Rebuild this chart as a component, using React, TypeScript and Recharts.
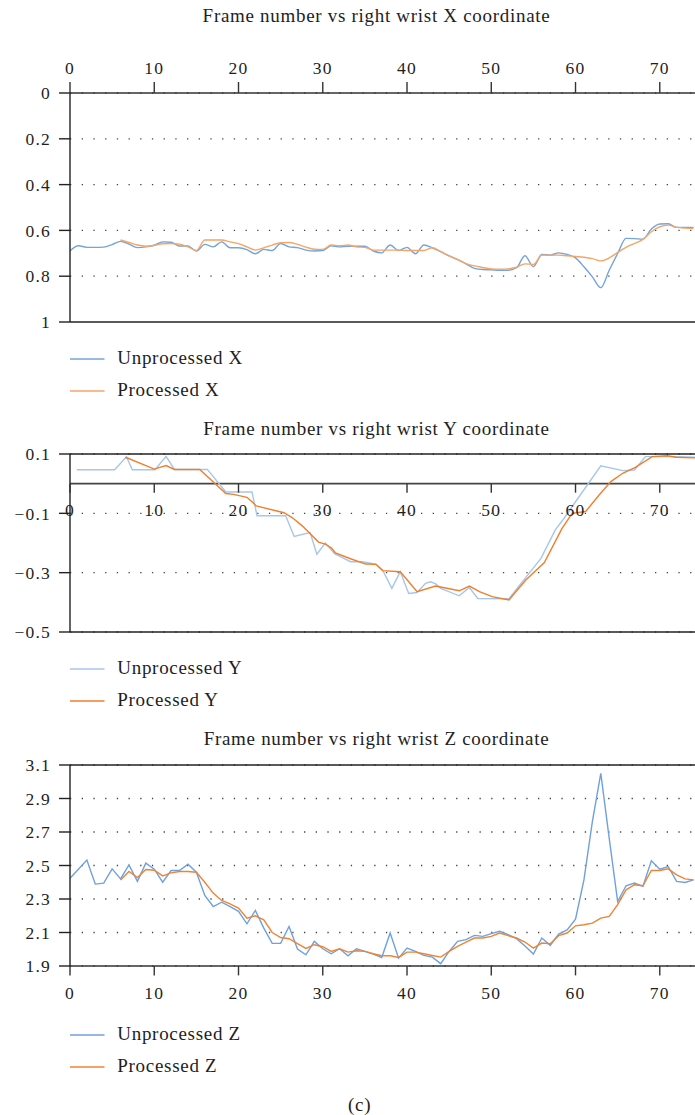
import React from 'react';
import { LineChart, Line, XAxis, YAxis, CartesianGrid, ReferenceLine, ReferenceDot, Legend } from 'recharts';

const FONT = '"Liberation Serif", "Times New Roman", serif';

// ---------- shared axis data ----------
const xTicks = [0, 10, 20, 30, 40, 50, 60, 70];
const xDomain: [number, number] = [0, 74.3];

// ---------- chart 1: X coordinate ----------
const titleX = 'Frame number vs right wrist X coordinate';
const namesX = ['Unprocessed X', 'Processed X'];
const yTicksX = [0, 0.2, 0.4, 0.6, 0.8, 1];
const unprocessedX = [
  0.69, 0.667, 0.674, 0.674, 0.673, 0.662, 0.648, 0.66, 0.675, 0.672,
  0.665, 0.65, 0.652, 0.668, 0.668, 0.69, 0.661, 0.672, 0.65, 0.676,
  0.676, 0.684, 0.702, 0.683, 0.688, 0.657, 0.672, 0.675, 0.686, 0.69,
  0.688, 0.667, 0.672, 0.669, 0.669, 0.669, 0.69, 0.698, 0.664, 0.688,
  0.674, 0.702, 0.664, 0.676, 0.693, 0.711, 0.728, 0.746, 0.766, 0.771,
  0.772, 0.774, 0.774, 0.763, 0.711, 0.758, 0.705, 0.708, 0.698, 0.705,
  0.72, 0.759, 0.803, 0.85, 0.774, 0.701, 0.635, 0.636, 0.638, 0.594,
  0.572, 0.571, 0.587, 0.587, 0.587,
];
const processedXStart = 6;
const processedX = [
  0.642, 0.653, 0.664, 0.669,
  0.666, 0.658, 0.657, 0.66, 0.672, 0.688, 0.642, 0.642, 0.642, 0.65,
  0.658, 0.672, 0.686, 0.676, 0.664, 0.654, 0.653, 0.661, 0.673, 0.682,
  0.683, 0.664, 0.667, 0.664, 0.672, 0.674, 0.686, 0.686, 0.686, 0.686,
  0.688, 0.688, 0.688, 0.676, 0.693, 0.711, 0.727, 0.745, 0.755, 0.762,
  0.768, 0.769, 0.768, 0.761, 0.746, 0.749, 0.708, 0.708, 0.708, 0.711,
  0.714, 0.717, 0.723, 0.733, 0.72, 0.696, 0.674, 0.657, 0.639, 0.606,
  0.584, 0.577, 0.587, 0.59, 0.591,
];

// ---------- chart 2: Y coordinate ----------
const titleY = 'Frame number vs right wrist Y coordinate';
const namesY = ['Unprocessed Y', 'Processed Y'];
const yTicksY = [0.1, -0.1, -0.3, -0.5];
const unprocessedYFrames = [
  0.8, 5.3, 6.7, 7.4, 10.1, 11.4, 12.4, 16.3, 18.5, 21.6,
  22.2, 25.6, 26.6, 28.5, 29.3, 30.3, 31.4, 33.3, 34.7, 36.3,
  37.1, 38.2, 39.2, 40.2, 41.2, 42.2, 42.8, 43.4, 44, 46.2,
  47.4, 48.4, 52.1, 54.1, 55.9, 57.6, 58.4, 60, 63, 65.6,
  67, 68.3, 71.7, 74.3,
];
const unprocessedYValues = [
  0.047, 0.047, 0.091, 0.047, 0.047, 0.092, 0.048, 0.048, -0.028, -0.028,
  -0.108, -0.108, -0.178, -0.165, -0.238, -0.2, -0.236, -0.263, -0.263, -0.271,
  -0.291, -0.353, -0.297, -0.37, -0.367, -0.336, -0.331, -0.338, -0.353, -0.378,
  -0.35, -0.387, -0.388, -0.316, -0.252, -0.156, -0.126, -0.061, 0.06, 0.044,
  0.046, 0.091, 0.091, 0.089,
];
const processedYFrames = [
  6.6, 10, 11.4, 12.4, 15.4, 18.5, 19.4, 21, 21.6, 22.1,
  25.4, 26.4, 27.6, 29.5, 30.3, 31, 31.5, 33.3, 35.1, 36.3,
  37.1, 39.2, 41.2, 43.4, 46.2, 47.4, 48.6, 50.1, 52.1, 54.1,
  56.3, 58.4, 59.6, 61.2, 62.8, 64.2, 65.6, 67.1, 69.1, 70.9,
  71.9, 74.3,
];
const processedYValues = [
  0.089, 0.049, 0.061, 0.048, 0.048, -0.033, -0.036, -0.046, -0.061, -0.075,
  -0.098, -0.115, -0.143, -0.197, -0.204, -0.216, -0.233, -0.253, -0.271, -0.272,
  -0.293, -0.297, -0.364, -0.345, -0.361, -0.345, -0.364, -0.381, -0.392, -0.325,
  -0.266, -0.151, -0.1, -0.094, -0.038, 0.007, 0.035, 0.055, 0.091, 0.094,
  0.089, 0.087,
];

// ---------- chart 3: Z coordinate ----------
const titleZ = 'Frame number vs right wrist Z coordinate';
const namesZ = ['Unprocessed Z', 'Processed Z'];
const yTicksZ = [3.1, 2.9, 2.7, 2.5, 2.3, 2.1, 1.9];
const unprocessedZ = [
  2.424, 2.478, 2.532, 2.389, 2.395, 2.48, 2.42, 2.504, 2.405, 2.514,
  2.478, 2.4, 2.47, 2.47, 2.508, 2.46, 2.321, 2.255, 2.281, 2.255,
  2.226, 2.152, 2.232, 2.126, 2.035, 2.035, 2.136, 2.001, 1.967, 2.047,
  2.003, 1.973, 2.003, 1.961, 2.003, 1.987, 1.971, 1.951, 2.097, 1.947,
  2.007, 1.987, 1.963, 1.953, 1.914, 1.987, 2.047, 2.057, 2.083, 2.077,
  2.093, 2.107, 2.087, 2.063, 2.019, 1.971, 2.067, 2.023, 2.091, 2.116,
  2.18, 2.414, 2.762, 3.05, 2.662, 2.285, 2.379, 2.395, 2.375, 2.528,
  2.478, 2.494, 2.405, 2.399, 2.414,
];
const processedZStart = 6;
const processedZ = [
  2.414, 2.464, 2.428, 2.476,
  2.472, 2.438, 2.456, 2.464, 2.464, 2.46, 2.4, 2.335, 2.291, 2.271,
  2.246, 2.186, 2.2, 2.176, 2.1, 2.07, 2.063, 2.033, 2.005, 2.027,
  2.015, 1.987, 2.003, 1.983, 1.991, 1.987, 1.973, 1.961, 1.961, 1.951,
  1.983, 1.983, 1.973, 1.963, 1.953, 1.987, 2.017, 2.043, 2.067, 2.067,
  2.077, 2.097, 2.081, 2.067, 2.043, 2.007, 2.037, 2.033, 2.081, 2.097,
  2.14, 2.146, 2.156, 2.186, 2.196, 2.266, 2.355, 2.385, 2.379, 2.47,
  2.47, 2.48, 2.444, 2.42, 2.414,
];

const caption = '(c)';

// ---------- helpers ----------
const fromStart = (values: number[], start: number) => values.map((v, i) => ({ frame: start + i, value: v }));
const fromPairs = (frames: number[], values: number[]) => frames.map((f, i) => ({ frame: f, value: values[i] }));
const minusFmt = (v: number) => (v < 0 ? '\u2212' + String(Math.abs(v)) : String(v));

const CHART_W = 696;
const AXIS_W = 70;
const LEGEND_H = 90;
const legendRows = [37, 69];

const tickStyle = { fill: '#1e1e1e', fontSize: 17.5, fontFamily: FONT, letterSpacing: 1.2 };
const gridProps = { vertical: false, stroke: '#444', strokeWidth: 1.3, strokeDasharray: '1.3 10.4' };

const makeLegendContent = (order: string[]) => (props: any) => {
  const payload = [...(props.payload || [])].sort(
    (a: any, b: any) => order.indexOf(String(a.value)) - order.indexOf(String(b.value))
  );
  return (
    <svg width={400} height={LEGEND_H} style={{ display: 'block' }}>
      {payload.map((p: any, k: number) => (
        <g key={k}>
          <line x1={70} x2={104.5} y1={legendRows[k]} y2={legendRows[k]} stroke={p.color} strokeWidth={1.5} />
          <text x={117.3} y={legendRows[k] + 5} fontFamily={FONT} fontSize={19} letterSpacing={0.7} fill="#1e1e1e">
            {p.value}
          </text>
        </g>
      ))}
    </svg>
  );
};

const legendEl = (order: string[]) => (
  <Legend
    verticalAlign="bottom"
    align="left"
    layout="horizontal"
    wrapperStyle={{ left: 0, bottom: 0, width: CHART_W, height: LEGEND_H }}
    content={makeLegendContent(order)}
  />
);

const ZeroAxisTick = (props: any) => {
  const { cx, cy, label } = props;
  return (
    <g>
      <line x1={cx} x2={cx} y1={cy} y2={cy + 9} stroke="#333" strokeWidth={1.4} />
      <text x={cx} y={cy + 32.4} textAnchor="middle" fontFamily={FONT} fontSize={17.5} letterSpacing={1.2} fill="#1e1e1e">
        {label}
      </text>
    </g>
  );
};

const blue1 = '#74a4dc';
const orange1 = '#f5a566';
const blue2 = '#a6c6ea';
const orange2 = '#f07f2c';
const blue3 = '#6fa1dc';
const orange3 = '#ef8434';

export default function App() {
  return (
    <div style={{ position: 'absolute', left: 0, top: 0, width: 695, height: 1115, overflow: 'hidden', background: '#fff' }}>
      {/* Chart 1 */}
      <div style={{ position: 'absolute', left: 0, top: 0 }}>
        <LineChart width={CHART_W} height={322 + LEGEND_H} margin={{ top: 0, right: 0, bottom: 0, left: 0 }}>
          <CartesianGrid {...gridProps} />
          <XAxis
            orientation="top"
            dataKey="frame"
            type="number"
            domain={xDomain}
            ticks={xTicks}
            allowDataOverflow
            height={93}
            tickSize={11}
            tickMargin={8}
            tick={tickStyle}
            axisLine={{ stroke: '#333', strokeWidth: 1.5 }}
            tickLine={{ stroke: '#333', strokeWidth: 1.4 }}
          />
          <YAxis
            reversed
            domain={[0, 1]}
            ticks={yTicksX}
            allowDataOverflow
            width={AXIS_W}
            tickSize={11}
            tickMargin={8}
            tick={tickStyle}
            axisLine={{ stroke: '#222', strokeWidth: 1.4 }}
            tickLine={{ stroke: '#222', strokeWidth: 1.4 }}
          />
          <ReferenceLine y={1} stroke="#5a5a5a" strokeWidth={2} />
          <Line data={fromStart(unprocessedX, 0)} dataKey="value" name={namesX[0]} type="monotone" stroke={blue1} strokeWidth={1.4} dot={false} isAnimationActive={false} />
          <Line data={fromStart(processedX, processedXStart)} dataKey="value" name={namesX[1]} type="monotone" stroke={orange1} strokeWidth={1.4} dot={false} isAnimationActive={false} />
          {legendEl(namesX)}
        </LineChart>
      </div>

      {/* Chart 2 */}
      <div style={{ position: 'absolute', left: 0, top: 440 }}>
        <LineChart width={CHART_W} height={192 + LEGEND_H} margin={{ top: 14, right: 0, bottom: 0, left: 0 }}>
          <CartesianGrid {...gridProps} />
          <XAxis hide dataKey="frame" type="number" domain={xDomain} ticks={xTicks} allowDataOverflow />
          <YAxis
            domain={[-0.5, 0.1]}
            ticks={yTicksY}
            allowDataOverflow
            width={AXIS_W}
            tickSize={11}
            tickMargin={8}
            tick={tickStyle}
            tickFormatter={minusFmt}
            axisLine={{ stroke: '#222', strokeWidth: 1.4 }}
            tickLine={{ stroke: '#222', strokeWidth: 1.4 }}
          />
          <ReferenceLine y={0.1} stroke="#222" strokeWidth={1.3} />
          <ReferenceLine y={-0.5} stroke="#222" strokeWidth={1.5} />
          <ReferenceLine y={0} stroke="#444" strokeWidth={1.6} />
          <Line data={fromPairs(unprocessedYFrames, unprocessedYValues)} dataKey="value" name={namesY[0]} type="linear" stroke={blue2} strokeWidth={1.4} dot={false} isAnimationActive={false} />
          <Line data={fromPairs(processedYFrames, processedYValues)} dataKey="value" name={namesY[1]} type="linear" stroke={orange2} strokeWidth={1.4} dot={false} isAnimationActive={false} />
          {xTicks.map((t) => (
            <ReferenceDot key={t} x={t} y={0} ifOverflow="visible" shape={(p: any) => <ZeroAxisTick {...p} label={String(t)} />} />
          ))}
          {legendEl(namesY)}
        </LineChart>
      </div>

      {/* Chart 3 */}
      <div style={{ position: 'absolute', left: 0, top: 750 }}>
        <LineChart width={CHART_W} height={216 + 32 + LEGEND_H} margin={{ top: 15, right: 0, bottom: 0, left: 0 }}>
          <CartesianGrid {...gridProps} />
          <XAxis
            dataKey="frame"
            type="number"
            domain={xDomain}
            ticks={xTicks}
            allowDataOverflow
            height={32}
            tickSize={9.4}
            tickMargin={11.5}
            tick={tickStyle}
            axisLine={{ stroke: '#333', strokeWidth: 1.6 }}
            tickLine={{ stroke: '#333', strokeWidth: 1.4 }}
          />
          <YAxis
            domain={[1.9, 3.1]}
            ticks={yTicksZ}
            allowDataOverflow
            width={AXIS_W}
            tickSize={11}
            tickMargin={8}
            tick={tickStyle}
            tickFormatter={(v: number) => v.toFixed(1)}
            axisLine={{ stroke: '#222', strokeWidth: 1.4 }}
            tickLine={{ stroke: '#222', strokeWidth: 1.4 }}
          />
          <ReferenceLine y={3.1} stroke="#222" strokeWidth={1.3} />
          <Line data={fromStart(unprocessedZ, 0)} dataKey="value" name={namesZ[0]} type="linear" stroke={blue3} strokeWidth={1.4} dot={false} isAnimationActive={false} />
          <Line data={fromStart(processedZ, processedZStart)} dataKey="value" name={namesZ[1]} type="linear" stroke={orange3} strokeWidth={1.4} dot={false} isAnimationActive={false} />
          {legendEl(namesZ)}
        </LineChart>
      </div>

      {/* Titles and caption */}
      <svg width={695} height={1115} style={{ position: 'absolute', left: 0, top: 0, pointerEvents: 'none' }}>
        <text x={376.5} y={22.3} textAnchor="middle" fontFamily={FONT} fontSize={19} letterSpacing={0.7} fill="#1e1e1e">{titleX}</text>
        <text x={376.5} y={435} textAnchor="middle" fontFamily={FONT} fontSize={19} letterSpacing={0.7} fill="#1e1e1e">{titleY}</text>
        <text x={376.5} y={745} textAnchor="middle" fontFamily={FONT} fontSize={19} letterSpacing={0.7} fill="#1e1e1e">{titleZ}</text>
        <text x={348} y={1111} fontFamily={FONT} fontSize={19} letterSpacing={0.7} fill="#1e1e1e">{caption}</text>
      </svg>
    </div>
  );
}
